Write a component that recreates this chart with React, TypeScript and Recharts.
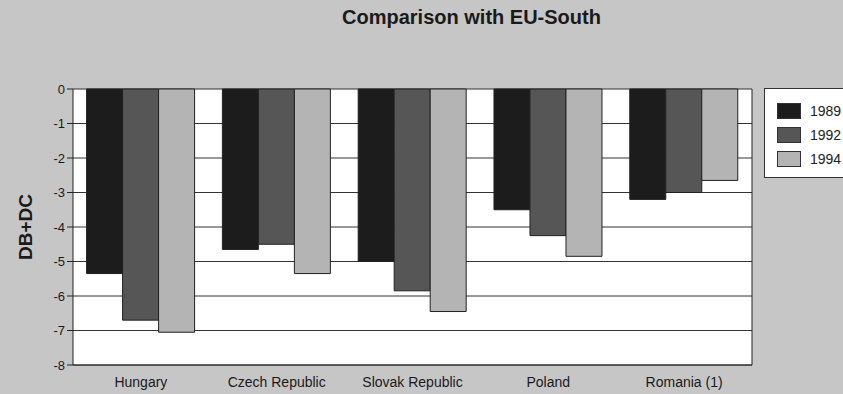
import React from 'react';
import { BarChart, Bar, XAxis, YAxis, CartesianGrid, Legend } from 'recharts';

const countries = ['Hungary', 'Czech Republic', 'Slovak Republic', 'Poland', 'Romania (1)'];
const y1989 = [-5.35, -4.65, -5.0, -3.5, -3.2];
const y1992 = [-6.7, -4.5, -5.85, -4.25, -3.0];
const y1994 = [-7.05, -5.35, -6.45, -4.85, -2.65];
const yTicks = [0, -1, -2, -3, -4, -5, -6, -7, -8];

const SERIES = [
  { key: '1989', values: y1989, color: '#1c1c1c' },
  { key: '1992', values: y1992, color: '#565656' },
  { key: '1994', values: y1994, color: '#b4b4b4' },
];

const data = countries.map((c, i) => {
  const row: Record<string, string | number> = { name: c };
  SERIES.forEach(s => { row[s.key] = s.values[i]; });
  return row;
});

const FONT = '"Liberation Sans", Arial, sans-serif';

const LegendBox = () => (
  <div
    style={{
      position: 'absolute', left: 764, top: 88, width: 95, height: 90,
      background: '#fff', border: '1px solid #333', boxSizing: 'border-box',
      padding: '10px 0 0 12px', fontFamily: FONT, fontSize: 14, color: '#222',
    }}
  >
    {SERIES.map(s => (
      <div key={s.key} style={{ display: 'flex', alignItems: 'center', height: 24 }}>
        <div style={{ width: 24, height: 16, background: s.color, border: '1px solid #333', boxSizing: 'border-box', marginRight: 9 }} />
        <span>{s.key}</span>
      </div>
    ))}
  </div>
);

export default function App() {
  return (
    <div style={{ position: 'absolute', left: 0, top: 0, width: 843, height: 394, background: '#c6c6c6', overflow: 'hidden', fontFamily: FONT }}>
      <div style={{ position: 'absolute', left: 0, top: 6, width: 943, textAlign: 'center', fontWeight: 'bold', fontSize: 20, color: '#1a1a1a' }}>
        Comparison with EU-South
      </div>
      <BarChart
        width={843}
        height={394}
        data={data}
        margin={{ top: 89, right: 90, bottom: 0, left: 13 }}
        barCategoryGap="10%"
        barGap={0}
      >
        <CartesianGrid vertical={false} stroke="#333" fill="#ffffff" strokeOpacity={1} />
        <XAxis
          dataKey="name"
          height={29}
          tickLine={false}
          axisLine={{ stroke: '#222' }}
          tick={{ fontSize: 14, fill: '#1a1a1a', fontFamily: FONT }}
          tickMargin={6}
          interval={0}
        />
        <YAxis
          width={60}
          domain={[-8, 0]}
          ticks={yTicks}
          tickSize={6}
          tickLine={{ stroke: '#222' }}
          axisLine={{ stroke: '#222' }}
          tick={{ fontSize: 13, fill: '#1a1a1a', fontFamily: FONT }}
          label={{ value: 'DB+DC', angle: -90, position: 'insideLeft', offset: 12, style: { fontSize: 19, fontWeight: 'bold', fill: '#1a1a1a', fontFamily: FONT, textAnchor: 'middle' } }}
        />
        <YAxis yAxisId="r" orientation="right" width={1} tick={false} tickLine={false} axisLine={{ stroke: '#222' }} />
        <Legend content={() => null} />
        {SERIES.map(s => (
          <Bar key={s.key} dataKey={s.key} fill={s.color} stroke="#222" strokeWidth={1} isAnimationActive={false} />
        ))}
      </BarChart>
      <LegendBox />
    </div>
  );
}
